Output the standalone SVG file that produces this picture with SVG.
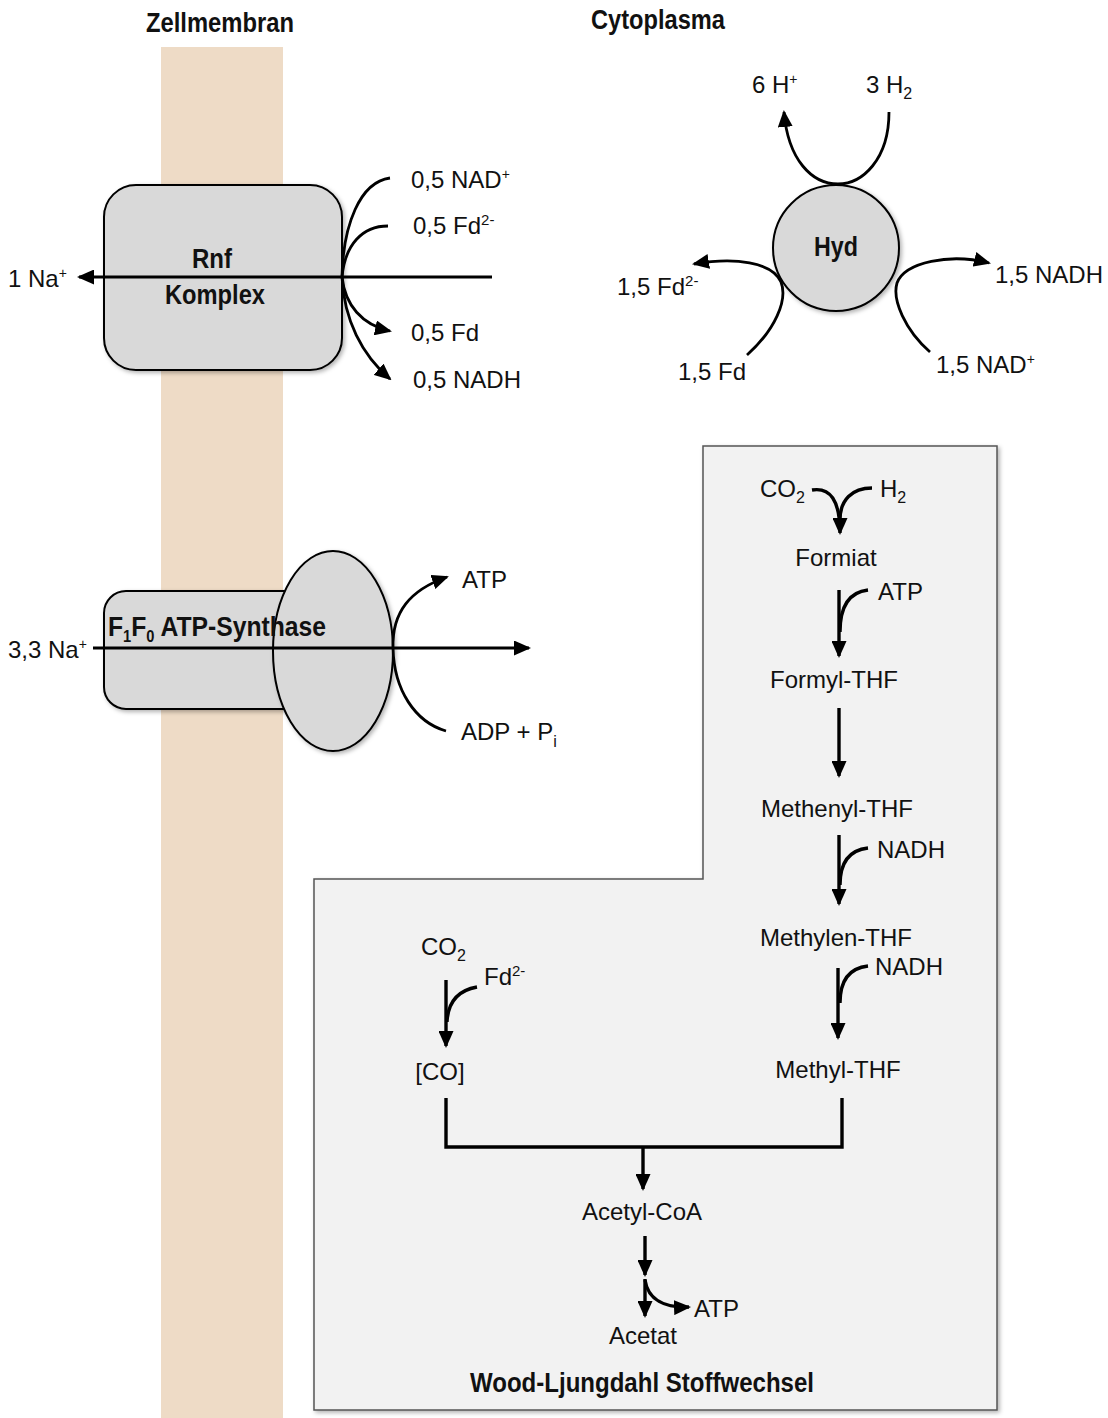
<svg xmlns="http://www.w3.org/2000/svg" width="1108" height="1418" viewBox="0 0 1108 1418">
<style>
text{font-family:"Liberation Sans",Arial,sans-serif;fill:#111;}
.t{font-size:24px;}
.b{font-weight:bold;font-size:27px;}
.ln{fill:none;stroke:#000;stroke-width:2.8;}
.pw{fill:none;stroke:#000;stroke-width:3.4;}
.shape{fill:#D9D9D9;stroke:#000;stroke-width:2;}
</style>
<defs>
<marker id="ah" markerWidth="17" markerHeight="15" refX="15" refY="7.5" orient="auto" markerUnits="userSpaceOnUse"><path d="M0,0 L17,7.5 L0,15 z" fill="#000"/></marker>
<filter id="sh" x="-10%" y="-10%" width="130%" height="130%"><feDropShadow dx="2" dy="2" stdDeviation="2" flood-color="#000" flood-opacity="0.3"/></filter>
</defs>
<rect width="1108" height="1418" fill="#fff"/>

<g id="labels-top">
<text class="b" x="146" y="32" textLength="148" lengthAdjust="spacingAndGlyphs">Zellmembran</text>
<text class="b" x="591" y="29" textLength="134" lengthAdjust="spacingAndGlyphs">Cytoplasma</text>
</g>

<g id="membrane"><rect x="161" y="47" width="122" height="1371" fill="#EEDBC6"/></g>

<g id="wood-ljungdahl">
<path d="M703,446 L997,446 L997,1410 L314,1410 L314,879 L703,879 Z" fill="#F2F2F2" stroke="#555" stroke-width="1.5" filter="url(#sh)"/>
<text class="b" x="470" y="1392" textLength="344" lengthAdjust="spacingAndGlyphs">Wood-Ljungdahl Stoffwechsel</text>
</g>

<g id="rnf">
<rect class="shape" x="104" y="185" width="238" height="185" rx="32" filter="url(#sh)"/>
<text class="b" x="192" y="268" textLength="40" lengthAdjust="spacingAndGlyphs">Rnf</text>
<text class="b" x="165" y="304" textLength="100" lengthAdjust="spacingAndGlyphs">Komplex</text>
</g>

<g id="atp-synthase">
<rect class="shape" x="104" y="591" width="226" height="118" rx="22" filter="url(#sh)"/>
<ellipse class="shape" cx="333" cy="651" rx="60" ry="100" filter="url(#sh)"/>
<text class="b" x="108" y="636" textLength="218" lengthAdjust="spacingAndGlyphs">F<tspan font-size="16" dy="6">1</tspan><tspan dy="-6">F</tspan><tspan font-size="16" dy="6">0</tspan><tspan dy="-6"> ATP-Synthase</tspan></text>
</g>

<g id="hyd">
<circle class="shape" cx="836" cy="248" r="63" filter="url(#sh)"/>
<text class="b" x="814" y="256" textLength="44" lengthAdjust="spacingAndGlyphs">Hyd</text>
</g>

<g id="connectors">
<path class="ln" d="M492,277 L79,277" marker-end="url(#ah)"/>
<path class="ln" d="M390,178 C360,182 343,225 342,277"/>
<path class="ln" d="M388,226 C362,226 345,245 342,277"/>
<path class="ln" d="M342,277 C345,305 362,325 390,331" marker-end="url(#ah)"/>
<path class="ln" d="M342,277 C344,320 362,355 390,379" marker-end="url(#ah)"/>
<path class="ln" d="M889,112 C889,160 862,184 838,184 C812,184 788,160 784,112" marker-end="url(#ah)"/>
<path class="ln" d="M747,355 C775,330 788,300 781,282 C772,262 735,257 694,264" marker-end="url(#ah)"/>
<path class="ln" d="M930,352 C905,330 892,300 897,283 C905,262 950,253 989,263" marker-end="url(#ah)"/>
<path class="ln" d="M93,648 L529,648" marker-end="url(#ah)"/>
<path class="ln" d="M393,648 C392,612 410,590 447,577" marker-end="url(#ah)"/>
<path class="ln" d="M393,648 C394,690 415,722 446,731"/>
<path class="pw" d="M812,490 C830,487 840,500 840,533" marker-end="url(#ah)"/>
<path class="pw" d="M872,488 C852,488 840,500 840,520"/>
<path class="pw" d="M839,590 L839,656" marker-end="url(#ah)"/>
<path class="pw" d="M868,590 C850,592 840,605 840,632"/>
<path class="pw" d="M839,708 L839,776" marker-end="url(#ah)"/>
<path class="pw" d="M839,835 L839,904" marker-end="url(#ah)"/>
<path class="pw" d="M868,848 C850,850 840,862 840,885"/>
<path class="pw" d="M838,968 L838,1038" marker-end="url(#ah)"/>
<path class="pw" d="M868,966 C850,968 840,980 840,1003"/>
<path class="pw" d="M446,980 L446,1046" marker-end="url(#ah)"/>
<path class="pw" d="M477,987 C460,990 448,1000 447,1022"/>
<path class="pw" d="M446,1098 L446,1147 L842,1147 L842,1098" stroke-width="3.6"/>
<path class="pw" d="M643,1147 L643,1189" marker-end="url(#ah)"/>
<path class="pw" d="M645,1236 L645,1275" marker-end="url(#ah)"/>
<path class="pw" d="M645,1279 L645,1316" marker-end="url(#ah)"/>
<path class="pw" d="M645,1280 C648,1300 665,1308 689,1307" marker-end="url(#ah)"/>
</g>

<g id="texts">
<text class="t" x="8" y="287">1 Na<tspan font-size="14" dy="-9">+</tspan></text>
<text class="t" x="411" y="188">0,5 NAD<tspan font-size="14" dy="-9">+</tspan></text>
<text class="t" x="413" y="234">0,5 Fd<tspan font-size="15" dy="-9">2-</tspan></text>
<text class="t" x="411" y="341">0,5 Fd</text>
<text class="t" x="413" y="388">0,5 NADH</text>

<text class="t" x="752" y="93">6 H<tspan font-size="14" dy="-9">+</tspan></text>
<text class="t" x="866" y="93">3 H<tspan font-size="16" dy="6">2</tspan></text>
<text class="t" x="617" y="295">1,5 Fd<tspan font-size="15" dy="-9">2-</tspan></text>
<text class="t" x="995" y="283">1,5 NADH</text>
<text class="t" x="678" y="380">1,5 Fd</text>
<text class="t" x="936" y="373">1,5 NAD<tspan font-size="14" dy="-9">+</tspan></text>

<text class="t" x="8" y="658">3,3 Na<tspan font-size="14" dy="-9">+</tspan></text>
<text class="t" x="462" y="588">ATP</text>
<text class="t" x="461" y="740">ADP + P<tspan font-size="16" dy="7">i</tspan></text>

<text class="t" x="760" y="497">CO<tspan font-size="16" dy="6">2</tspan></text>
<text class="t" x="880" y="497">H<tspan font-size="16" dy="6">2</tspan></text>
<text class="t" x="836" y="566" text-anchor="middle">Formiat</text>
<text class="t" x="878" y="600">ATP</text>
<text class="t" x="834" y="688" text-anchor="middle">Formyl-THF</text>
<text class="t" x="837" y="817" text-anchor="middle">Methenyl-THF</text>
<text class="t" x="877" y="858">NADH</text>
<text class="t" x="836" y="946" text-anchor="middle">Methylen-THF</text>
<text class="t" x="875" y="975">NADH</text>
<text class="t" x="838" y="1078" text-anchor="middle">Methyl-THF</text>
<text class="t" x="421" y="955">CO<tspan font-size="16" dy="6">2</tspan></text>
<text class="t" x="484" y="985">Fd<tspan font-size="15" dy="-9">2-</tspan></text>
<text class="t" x="440" y="1080" text-anchor="middle">[CO]</text>
<text class="t" x="642" y="1220" text-anchor="middle">Acetyl-CoA</text>
<text class="t" x="694" y="1317">ATP</text>
<text class="t" x="643" y="1344" text-anchor="middle">Acetat</text>
</g>
</svg>
